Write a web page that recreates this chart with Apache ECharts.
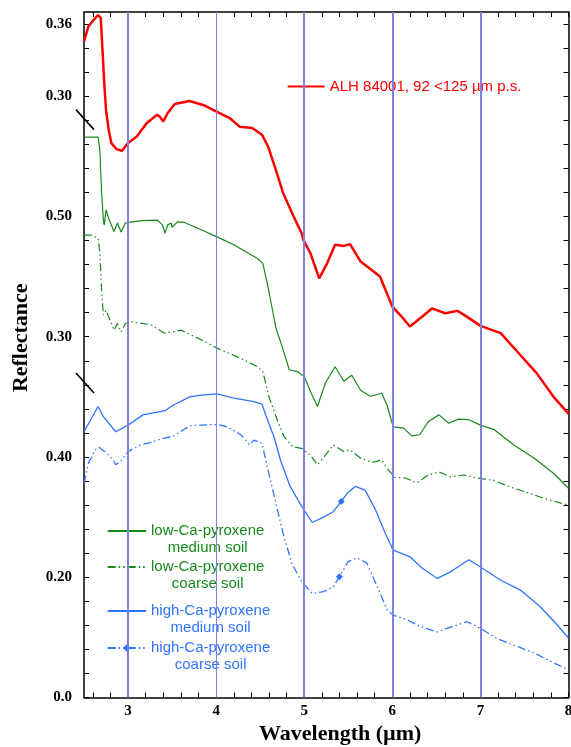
<!DOCTYPE html>
<html><head><meta charset="utf-8">
<script src="https://cdn.jsdelivr.net/npm/echarts@6/dist/echarts.min.js"></script>
<style>html,body{margin:0;padding:0;background:#fff}#c{width:571px;height:747px}</style>
</head><body><div id="c"></div>
<script>
// Values are read in the plotted (offset / broken-axis) display units of the shared y axis.
const alhName = 'ALH 84001, 92 <125 µm p.s.';
const alhWavelength = [2.50,2.55,2.61,2.66,2.69,2.71,2.73,2.75,2.78,2.81,2.87,2.93,3.00,3.10,3.21,3.33,3.36,3.40,3.45,3.53,3.70,3.86,4.01,4.16,4.27,4.41,4.52,4.59,4.69,4.76,4.88,4.97,4.99,5.07,5.17,5.26,5.35,5.45,5.52,5.64,5.86,6.00,6.09,6.20,6.32,6.45,6.60,6.74,6.85,7.00,7.23,7.42,7.64,7.83,8.00];
const alhValue = [1.091,1.116,1.127,1.135,1.130,1.077,1.022,0.977,0.944,0.922,0.912,0.909,0.922,0.933,0.955,0.969,0.966,0.958,0.972,0.987,0.992,0.985,0.974,0.963,0.949,0.947,0.936,0.916,0.872,0.839,0.800,0.772,0.761,0.739,0.697,0.722,0.753,0.751,0.754,0.725,0.700,0.650,0.636,0.617,0.631,0.647,0.639,0.643,0.633,0.618,0.606,0.575,0.539,0.500,0.472];

const lowMedName = 'low-Ca-pyroxene medium soil';
const lowMedWavelength = [2.50,2.66,2.68,2.69,2.70,2.72,2.73,2.75,2.78,2.84,2.88,2.92,2.97,3.01,3.16,3.33,3.39,3.42,3.45,3.49,3.50,3.56,3.64,3.83,4.01,4.20,4.47,4.53,4.58,4.64,4.68,4.75,4.83,4.92,5.00,5.08,5.15,5.24,5.35,5.45,5.54,5.64,5.75,5.88,5.94,6.01,6.13,6.22,6.31,6.41,6.53,6.64,6.75,6.87,7.00,7.15,7.38,7.61,7.83,8.00];
const lowMedValue = [0.932,0.932,0.911,0.872,0.839,0.794,0.786,0.811,0.797,0.775,0.789,0.774,0.789,0.790,0.793,0.794,0.786,0.772,0.786,0.789,0.782,0.791,0.790,0.778,0.766,0.753,0.730,0.722,0.689,0.644,0.614,0.583,0.545,0.542,0.534,0.506,0.484,0.523,0.550,0.526,0.536,0.511,0.501,0.506,0.486,0.450,0.448,0.435,0.437,0.459,0.470,0.456,0.463,0.462,0.453,0.446,0.420,0.398,0.373,0.348];

const lowCoarseName = 'low-Ca-pyroxene coarse soil';
const lowCoarseWavelength = [2.50,2.58,2.66,2.68,2.70,2.72,2.75,2.78,2.84,2.88,2.92,2.97,3.03,3.26,3.41,3.50,3.60,3.83,4.01,4.28,4.47,4.53,4.60,4.70,4.77,4.87,4.98,5.08,5.15,5.23,5.33,5.45,5.52,5.64,5.77,5.88,5.94,6.03,6.15,6.28,6.41,6.53,6.66,6.81,6.96,7.15,7.34,7.61,7.72,8.00];
const lowCoarseValue = [0.769,0.769,0.764,0.739,0.678,0.636,0.644,0.633,0.611,0.622,0.608,0.622,0.625,0.620,0.606,0.608,0.611,0.595,0.581,0.564,0.550,0.542,0.500,0.459,0.434,0.417,0.414,0.401,0.387,0.401,0.420,0.409,0.412,0.398,0.391,0.395,0.381,0.366,0.365,0.357,0.370,0.375,0.367,0.370,0.365,0.361,0.350,0.337,0.331,0.320];

const highMedName = 'high-Ca-pyroxene medium soil';
const highMedWavelength = [2.50,2.66,2.72,2.86,3.00,3.17,3.42,3.51,3.70,3.83,4.01,4.20,4.43,4.52,4.57,4.66,4.73,4.84,4.95,5.09,5.22,5.33,5.42,5.49,5.58,5.69,5.81,5.92,6.01,6.20,6.34,6.51,6.66,6.87,7.00,7.23,7.45,7.68,7.87,8.00];
const highMedValue = [0.442,0.484,0.467,0.442,0.453,0.470,0.477,0.486,0.500,0.503,0.505,0.498,0.492,0.488,0.467,0.432,0.395,0.351,0.323,0.291,0.300,0.309,0.326,0.340,0.351,0.345,0.312,0.273,0.245,0.234,0.215,0.198,0.209,0.229,0.217,0.195,0.179,0.151,0.121,0.099];
const highMedMarkerWavelength = 5.42;

const highCoarseName = 'high-Ca-pyroxene coarse soil';
const highCoarseWavelength = [2.50,2.55,2.63,2.67,2.76,2.83,2.86,2.91,3.00,3.14,3.25,3.40,3.51,3.70,3.83,4.01,4.13,4.28,4.38,4.43,4.52,4.58,4.67,4.76,4.86,4.97,5.09,5.22,5.33,5.40,5.50,5.60,5.71,5.83,5.94,6.01,6.17,6.32,6.51,6.70,6.85,7.00,7.19,7.38,7.61,7.80,8.00];
const highCoarseValue = [0.356,0.390,0.412,0.416,0.406,0.395,0.387,0.392,0.409,0.420,0.424,0.431,0.434,0.452,0.453,0.454,0.450,0.437,0.420,0.428,0.423,0.384,0.328,0.273,0.223,0.193,0.173,0.176,0.184,0.201,0.226,0.232,0.224,0.184,0.146,0.137,0.129,0.118,0.109,0.119,0.126,0.115,0.098,0.087,0.074,0.060,0.046];
const highCoarseMarkerWavelength = 5.40;

const xLabelValues = [3, 4, 5, 6, 7, 8];
const yLabelPositions = [0, 0.2, 0.4, 0.6, 0.8, 1.0, 1.12];
const yLabelTexts = ['0.0', '0.20', '0.40', '0.30', '0.50', '0.30', '0.36'];
const guideWavelengths = [3, 4, 5, 6, 7];
const axisBreakPositions = [0.961, 0.523];

const SERIF = 'Liberation Serif, Times New Roman, serif';
const SANS = 'Liberation Sans, Arial, sans-serif';
const GREEN = '#17891a';
const BLUE = '#2f74ff';
const RED = '#ff0000';
const GUIDE = '#7f80e6';
const DASH_DOT_DOT = [8, 3, 1.5, 3, 1.5, 3];

const xTicks = [];
for (let k = 13; k <= 40; k++) xTicks.push(k / 5);
const yTicks = [];
for (let k = 0; k <= 28; k++) yTicks.push(Math.round(k * 4) / 100);

function toData(wl, val, markerWl) {
  return wl.map((w, i) => (markerWl != null && Math.abs(w - markerWl) < 1e-9)
    ? { value: [w, val[i]] }
    : { value: [w, val[i]], symbol: 'none' });
}

function lineSeries(name, wl, val, color, width, type, markerWl) {
  return {
    name, type: 'line', data: toData(wl, val, markerWl),
    symbol: markerWl != null ? 'diamond' : 'none', symbolSize: 7, showSymbol: markerWl != null,
    itemStyle: { color }, lineStyle: { color, width, type },
    smooth: false, animation: false, z: 3
  };
}

function twoLine(name) {
  const parts = name.replace('pyroxene ', 'pyroxene\n').split('\n');
  return parts.map(p => '{a|' + p + '}').join('\n');
}

function labelFor(v) {
  for (let i = 0; i < yLabelPositions.length; i++) {
    if (Math.abs(yLabelPositions[i] - v) < 1e-6) return yLabelTexts[i];
  }
  return '';
}

const chart = echarts.init(document.getElementById('c'), null, { renderer: 'canvas' });

const axisLineStyle = { color: '#000', width: 1.5 };
const tickStyle = { color: '#000', width: 1 };
const hiddenSymbol = { opacity: 0 };

const option = {
  backgroundColor: '#fff',
  animation: false,
  grid: { left: 84, right: 2.5, top: 12, bottom: 49.5, outerBoundsMode: 'none', containLabel: false },
  xAxis: [
    {
      type: 'value', min: 2.5, max: 8, position: 'bottom',
      axisLine: { show: true, onZero: false, lineStyle: axisLineStyle },
      axisTick: { show: true, inside: true, length: 5, customValues: xTicks, lineStyle: tickStyle },
      axisLabel: { customValues: xLabelValues, margin: 6, color: '#000', fontFamily: SERIF, fontWeight: 'bold', fontSize: 15 },
      splitLine: { show: false },
      name: 'Wavelength (µm)', nameLocation: 'middle', nameGap: 24,
      nameTextStyle: { color: '#000', fontFamily: SERIF, fontWeight: 'bold', fontSize: 22, padding: [0, 0, 0, 28] }
    },
    {
      type: 'value', min: 2.5, max: 8, position: 'top',
      axisLine: { show: true, onZero: false, lineStyle: axisLineStyle },
      axisTick: { show: true, inside: true, length: 5, customValues: xTicks, lineStyle: tickStyle },
      axisLabel: { show: false },
      splitLine: { show: false }
    }
  ],
  yAxis: [
    {
      type: 'value', min: 0, max: 1.14, position: 'left',
      axisLine: { show: true, onZero: false, lineStyle: axisLineStyle },
      axisTick: { show: true, inside: true, length: 5, customValues: yTicks, lineStyle: tickStyle },
      axisLabel: { customValues: yLabelPositions, formatter: labelFor, margin: 12, color: '#000', fontFamily: SERIF, fontWeight: 'bold', fontSize: 15 },
      splitLine: { show: false },
      name: 'Reflectance', nameLocation: 'middle', nameGap: 52, nameRotate: 90,
      nameTextStyle: { color: '#000', fontFamily: SERIF, fontWeight: 'bold', fontSize: 22, padding: [0, 0, 0, 34] }
    },
    {
      type: 'value', min: 0, max: 1.14, position: 'right',
      axisLine: { show: true, onZero: false, lineStyle: axisLineStyle },
      axisTick: { show: true, inside: true, length: 5, customValues: yTicks, lineStyle: tickStyle },
      axisLabel: { show: false },
      splitLine: { show: false }
    }
  ],
  legend: [
    {
      data: [{ name: alhName, itemStyle: hiddenSymbol }], left: 282.7, top: 77, orient: 'horizontal',
      itemWidth: 37, itemHeight: 14, padding: [2, 4], backgroundColor: '#fff',
      selectedMode: false, itemStyle: hiddenSymbol,
      textStyle: { color: RED, fontFamily: SANS, fontSize: 15 }
    },
    {
      data: [{ name: lowMedName, itemStyle: hiddenSymbol }, { name: lowCoarseName, itemStyle: hiddenSymbol }],
      orient: 'vertical', left: 102.7, top: 521.5,
      itemWidth: 38.3, itemHeight: 10, itemGap: 4, padding: [2, 4, 2, 4], backgroundColor: '#fff',
      selectedMode: false, formatter: twoLine, itemStyle: hiddenSymbol,
      textStyle: { padding: [17, 0, 0, 0], rich: { a: { color: GREEN, fontFamily: SANS, fontSize: 15, lineHeight: 17, align: 'center' } } }
    },
    {
      data: [{ name: highMedName, itemStyle: hiddenSymbol }, { name: highCoarseName }],
      orient: 'vertical', left: 102.7, top: 601.5,
      itemWidth: 38.3, itemHeight: 10, itemGap: 5, padding: [2, 4, 2, 4], backgroundColor: '#fff',
      selectedMode: false, formatter: twoLine,
      textStyle: { padding: [17, 0, 0, 0], rich: { a: { color: BLUE, fontFamily: SANS, fontSize: 15, lineHeight: 17, align: 'center' } } }
    }
  ],
  series: [
    {
      name: 'guides', type: 'line', data: [], animation: false, z: 2,
      markLine: {
        silent: true, animation: false, symbol: ['none', 'none'], label: { show: false },
        data: guideWavelengths.map(w => ({ xAxis: w, lineStyle: { color: GUIDE, width: w === 4 ? 1 : 2, type: 'solid' } }))
      }
    },
    lineSeries(alhName, alhWavelength, alhValue, RED, 2.5, 'solid', null),
    lineSeries(lowMedName, lowMedWavelength, lowMedValue, GREEN, 1.2, 'solid', null),
    lineSeries(lowCoarseName, lowCoarseWavelength, lowCoarseValue, GREEN, 1.2, DASH_DOT_DOT, null),
    lineSeries(highMedName, highMedWavelength, highMedValue, BLUE, 1.3, 'solid', highMedMarkerWavelength),
    lineSeries(highCoarseName, highCoarseWavelength, highCoarseValue, BLUE, 1.3, DASH_DOT_DOT, highCoarseMarkerWavelength)
  ]
};

chart.setOption(option);

// axis break marks on the left axis
const axisX = chart.convertToPixel({ xAxisIndex: 0 }, 2.5);
chart.setOption({
  graphic: axisBreakPositions.map(v => {
    const py = chart.convertToPixel({ yAxisIndex: 0 }, v);
    return {
      type: 'line', z: 10, silent: true,
      shape: { x1: axisX - 8, y1: py - 10, x2: axisX + 10, y2: py + 10 },
      style: { stroke: '#000', lineWidth: 1.6 }
    };
  })
});
</script>
</body></html>
